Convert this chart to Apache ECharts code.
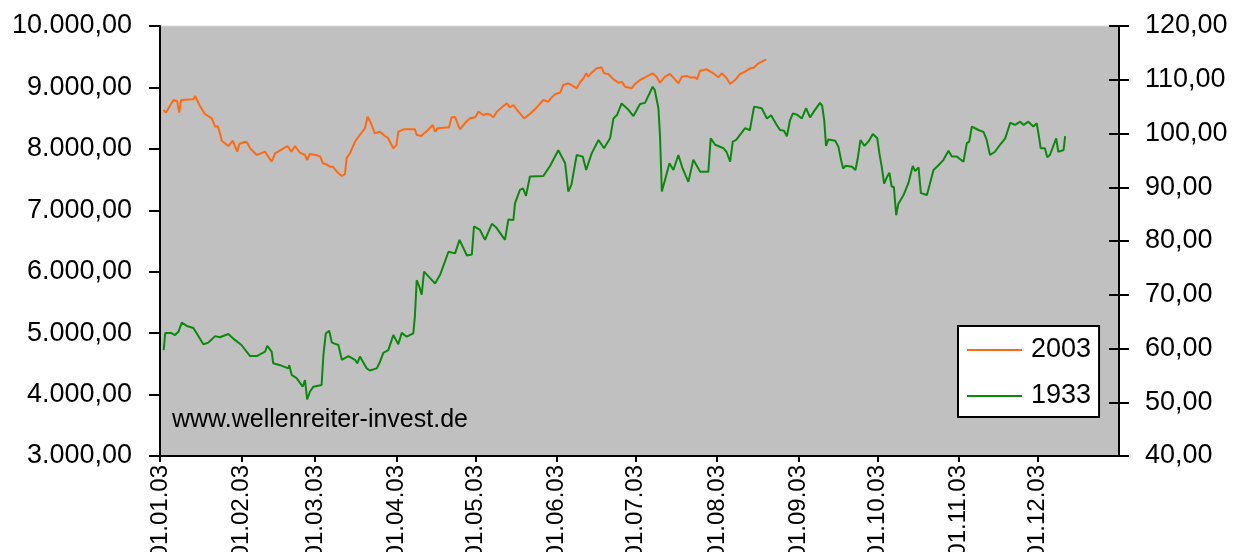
<!DOCTYPE html>
<html>
<head>
<meta charset="utf-8">
<script src="https://cdn.jsdelivr.net/npm/echarts@6/dist/echarts.min.js"></script>
<style>
html,body{margin:0;padding:0;background:#fff;}
#chart{width:1239px;height:552px;}
</style>
</head>
<body>
<div id="chart"></div>
<script>
// x axis: day of year 2003 (0 = 01.01.03)
const monthStartDays = [0,31,59,90,120,151,181,212,243,273,304,334];
const monthLabels = ['01.01.03','01.02.03','01.03.03','01.04.03','01.05.03','01.06.03','01.07.03','01.08.03','01.09.03','01.10.03','01.11.03','01.12.03'];
const leftTicks = [3000,4000,5000,6000,7000,8000,9000,10000];
const leftTickLabels = ['3.000,00','4.000,00','5.000,00','6.000,00','7.000,00','8.000,00','9.000,00','10.000,00'];
const rightTicks = [40,50,60,70,80,90,100,110,120];
const rightTickLabels = ['40,00','50,00','60,00','70,00','80,00','90,00','100,00','110,00','120,00'];
const seriesNames = ['2003','1933'];

// 2003 (left axis)
const days2003 = [1.3,2.3,5.1,6.5,7.3,8.0,12.7,13.4,15.2,17.1,19.7,21,22,23,23.5,26,27.7,29.4,30.2,32.4,33.2,34.3,36.8,40,42.5,43.8,47,48.5,50,51.4,53.3,55.2,56,57,59.4,61,62,63.2,64.7,65.8,67.3,69.2,70.4,71,72.3,74.2,76,78,79,80,81.8,83.7,85.6,86.7,88.8,90,90.7,92.6,97,97.7,99.4,100,102,103.8,104.7,105.6,110,111,112.3,113.6,114.2,116,118,120,121.2,123,124.3,125.6,126.9,128.2,130.7,132,133.2,134.5,136.4,138.6,140.8,142.7,145.9,147.8,148.5,150.4,152.3,153.5,155.4,156.6,158.6,160,161.2,162.2,163,164.3,166.2,168.1,169,170.6,172.6,174.5,175.8,177,179.5,180.8,182.7,184.6,187.5,189,190.3,192.2,194.1,196,197.3,198.6,200.5,201.8,203.7,204.4,205.5,208.1,210.6,212.5,213.8,215.7,217,218.9,220.8,222.7,224.6,226,227.8,230.7];
const values2003 = [8633,8590,8795,8780,8589,8795,8807,8860,8698,8567,8497,8361,8370,8225,8133,8046,8133,7954,8079,8116,8100,8009,7900,7954,7791,7928,8009,8046,7954,8046,7937,7900,7818,7916,7900,7873,7765,7750,7710,7710,7628,7558,7590,7846,7928,8116,8225,8335,8524,8442,8253,8279,8209,8180,8009,8063,8279,8318,8318,8225,8210,8198,8307,8388,8279,8335,8351,8514,8520,8372,8318,8416,8497,8514,8605,8551,8570,8560,8514,8605,8698,8742,8677,8714,8605,8497,8567,8644,8795,8768,8810,8893,8914,9040,9067,9040,8986,9093,9149,9230,9175,9240,9311,9328,9230,9219,9132,9077,9090,9012,8986,9056,9121,9165,9230,9175,9077,9175,9219,9132,9067,9175,9186,9160,9165,9130,9273,9295,9230,9165,9230,9149,9056,9121,9219,9256,9311,9320,9393,9458];

// 1933 (right axis)
const days1933 = [1.4,2,4.2,5.7,7,8.3,10.2,12.7,14,16.5,18.4,21,22.8,26,28.5,31,34.3,36.8,40,40.8,42.5,43.1,45.7,48.8,49.2,50.1,52,54.3,55.2,56,57.1,58.4,61.5,62.2,63.1,64.4,65.4,67.9,69.2,71.7,74.2,75.1,76.1,78.7,79.9,82.5,83.7,85,86.9,88.8,90.7,92,93.9,96.4,97,97.7,98.7,99.6,100.5,102.8,104.7,106.6,109.8,112.3,114,116.8,118.7,119.5,121.8,123.7,126.3,128,131.3,132.6,134.5,135.1,137,138.2,139.3,140.8,145.9,148.5,151.6,154.2,155.4,156.6,158.6,160.9,162.2,164.3,166.9,169,171.3,172.6,174,175.7,178.3,180.2,182.7,184.6,187.5,188.3,189.7,190.3,191,192.2,193.9,195.4,197.3,198.9,201.1,203,205.6,208.7,209.6,211.3,214.5,215.6,217,218,219.3,222.7,224.5,226.1,229,231,232.6,234.7,236,237.5,238.6,239.8,240.9,242.5,244.3,245.9,247.4,249.3,251.2,252,252.8,253.5,254.4,257,258.2,259.2,260,261,263.4,264.7,265.5,266.6,268.1,269.8,271.3,273,273.8,274.7,275.6,276.6,277.6,278.5,279.3,280.2,281,283,284.8,286.5,287.4,288.7,289.6,291.9,292.9,294.4,296.3,298.2,300.1,301.4,303.3,305.8,307.1,308,309,311.5,313.4,314.6,315.9,317.8,319.7,321.7,323.6,325.5,327.4,328.7,330.5,332.4,333.7,334.7,335.2,336.8,337.7,338.7,341.1,341.9,343.9,344.5];
const values1933 = [59.7,62.9,62.9,62.5,63.1,64.8,64.2,63.8,62.8,60.8,61.1,62.3,62.1,62.7,61.6,60.65,58.6,58.6,59.4,60.5,59.4,57.25,56.9,56.3,56.9,55.1,54.5,52.9,54.1,50.55,52,52.9,53.2,58.8,62.8,63.3,61.1,60.65,57.9,58.6,57.9,57.25,58.5,56.3,55.9,56.3,57.5,59.2,59.7,62.5,60.8,62.9,62.2,62.8,65.9,72.7,71.5,70,74.3,73.1,72.1,73.7,78,77.7,80.2,77.3,77.5,82.7,82.05,80.2,83.2,82.5,80.2,84,83.9,87,89.5,89.8,88.4,92,92.1,94,96.9,94.45,89.2,90.5,96,95.7,93.2,96.3,98.8,97.25,99.1,102.8,103.5,105.6,104.4,103.25,105.5,105.7,108.7,108.1,104.7,99.7,89.2,91.35,94.45,93.2,96,93.5,91,95.1,92.9,92.9,99.1,97.9,97.25,96.6,94.75,98.5,98.8,101,100.6,105,104.7,102.8,103.4,101.6,100.65,100.5,99.5,102.5,103.75,103.5,102.8,104.7,103,104.4,105.7,105.2,102.5,97.7,98.9,98.65,97.55,95.1,93.5,94.0,93.8,93.2,95.2,98.8,97.7,98.6,99.9,99.1,96.3,93.8,90.7,91.8,92.7,90.1,90.1,84.8,86.9,88.55,90.7,93.95,93.0,93.7,88.9,88.55,90.4,93.2,94.1,95.1,96.8,95.7,95.7,94.75,98.2,98.5,101.3,100.65,100.3,98.9,96,96.6,97.9,99.1,102,101.6,102.2,101.6,102.2,101.3,101.9,98.9,97.25,97.25,95.6,96,99.1,96.6,96.9,99.5];

const FONT = '"Liberation Sans", Arial, sans-serif';
const chart = echarts.init(document.getElementById('chart'), null, {renderer: 'canvas'});

function labelFrom(ticks, labels) {
  return function (v) {
    const i = ticks.findIndex(t => Math.abs(t - v) < 1e-6);
    return i >= 0 ? labels[i] : '';
  };
}

const axisLineStyle = {color: '#000', width: 2};

chart.setOption({
  animation: false,
  backgroundColor: '#fff',
  grid: {
    left: 160, right: 120, top: 26, bottom: 96,
    containLabel: false, outerBoundsMode: 'none',
    show: true, backgroundColor: '#c0c0c0', borderColor: '#d8d8d8', borderWidth: 1
  },
  legend: {
    data: seriesNames,
    orient: 'vertical',
    left: 958, top: 326,
    padding: [9, 8, 6, 9],
    itemGap: 16,
    icon: 'rect',
    itemWidth: 55, itemHeight: 2,
    backgroundColor: '#fff',
    borderColor: '#000', borderWidth: 2,
    textStyle: {fontFamily: FONT, fontSize: 27, color: '#000', lineHeight: 30, padding: [0, 0, 0, 4]}
  },
  xAxis: {
    type: 'value', min: 0, max: 365,
    axisLine: {show: true, lineStyle: axisLineStyle},
    axisTick: {show: true, length: 6, lineStyle: axisLineStyle, customValues: monthStartDays},
    axisLabel: {
      customValues: monthStartDays,
      rotate: 90, margin: 9,
      fontFamily: FONT, fontSize: 24, color: '#000',
      formatter: labelFrom(monthStartDays, monthLabels)
    },
    splitLine: {show: false}
  },
  yAxis: [
    {
      type: 'value', position: 'left', min: 3000, max: 10000, interval: 1000,
      axisLine: {show: true, lineStyle: axisLineStyle},
      axisTick: {show: true, length: 11, lineStyle: axisLineStyle},
      axisLabel: {margin: 28, fontFamily: FONT, fontSize: 27, color: '#000',
        formatter: labelFrom(leftTicks, leftTickLabels)},
      splitLine: {show: false}
    },
    {
      type: 'value', position: 'right', min: 40, max: 120, interval: 10,
      axisLine: {show: true, lineStyle: axisLineStyle},
      axisTick: {show: true, length: 10, lineStyle: axisLineStyle},
      axisLabel: {margin: 26, fontFamily: FONT, fontSize: 27, color: '#000',
        formatter: labelFrom(rightTicks, rightTickLabels)},
      splitLine: {show: false}
    },
    {
      type: 'value', position: 'right', min: 40, max: 120, interval: 10,
      axisLine: {show: false},
      axisTick: {show: true, inside: true, length: 10, lineStyle: axisLineStyle},
      axisLabel: {show: false},
      splitLine: {show: false}
    }
  ],
  graphic: [{
    type: 'text', left: 172, top: 408, z: 10,
    style: {text: 'www.wellenreiter-invest.de', font: '25px ' + FONT, fill: '#000'}
  }],
  series: [
    {
      name: seriesNames[0], type: 'line', yAxisIndex: 0,
      showSymbol: false, symbol: 'none',
      lineStyle: {color: '#ff6a10', width: 2}, itemStyle: {color: '#ff6a10'},
      data: days2003.map((d, i) => [d, values2003[i]])
    },
    {
      name: seriesNames[1], type: 'line', yAxisIndex: 1,
      showSymbol: false, symbol: 'none',
      lineStyle: {color: '#0a8a0a', width: 2}, itemStyle: {color: '#0a8a0a'},
      data: days1933.map((d, i) => [d, values1933[i]])
    }
  ]
});
</script>
</body>
</html>
